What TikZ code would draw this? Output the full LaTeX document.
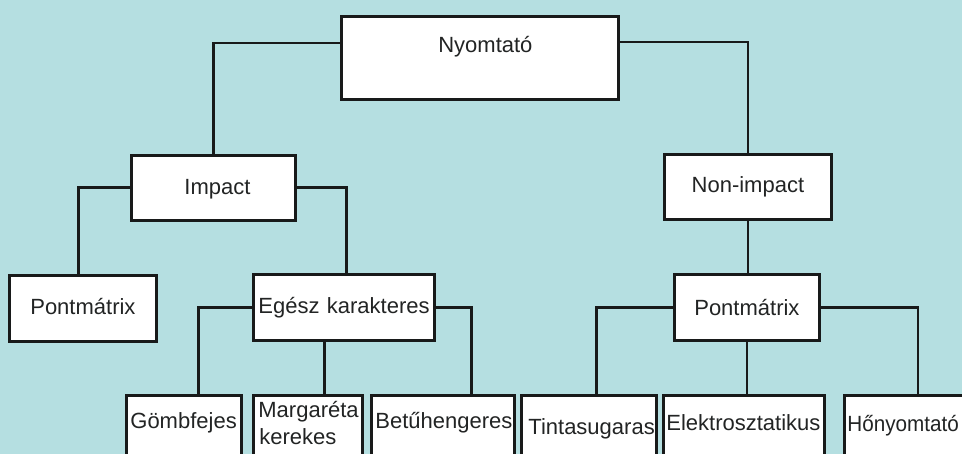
\documentclass[tikz,border=0pt]{standalone}
\usepackage{fontspec}
\setmainfont{Liberation Sans}
\definecolor{bgc}{RGB}{181,223,225}
\definecolor{linec}{RGB}{24,26,26}
\definecolor{txtc}{RGB}{34,36,36}
\begin{document}
\begin{tikzpicture}[x=1pt,y=1pt,
  box/.style={draw=linec, fill=white, line width=2.8pt, inner sep=0pt,
    anchor=north west, font=\fontsize{22}{27}\selectfont, text=txtc},
  conn/.style={draw=linec, line width=2.8pt}]
\useasboundingbox (0,0) rectangle (962,-454);
\clip (0,0) rectangle (962,-454);
\fill[bgc] (0,0) rectangle (962,-454);

% level 0
\node[box, text width=277pt, text height=36pt, text depth=47pt, align=center]
  (nyom) at (340,-15) {\mbox{\hspace*{11pt}Nyomtató}};
% level 1
\node[box, text width=164pt, text height=39pt, text depth=26pt, align=center]
  (impact) at (130,-154) {\mbox{\hspace*{8pt}Impact}};
\node[box, text width=167pt, text height=38pt, text depth=27pt, align=center]
  (nonimp) at (663,-153) {\mbox{Non-impact}};
% level 2
\node[box, text width=147pt, text height=39pt, text depth=27pt, align=center]
  (pm1) at (8,-274) {\mbox{Pontmátrix}};
\node[box, text width=181pt, text height=39pt, text depth=27pt, align=left]
  (egesz) at (252,-273) {\mbox{\hspace*{5pt}Egész karakteres}};
\node[box, text width=145pt, text height=41pt, text depth=25pt, align=center]
  (pm2) at (673,-273) {\mbox{Pontmátrix}};
% level 3
\node[box, text width=115pt, text height=33pt, text depth=66pt, align=left]
  (gomb) at (125,-394) {\mbox{\hspace*{4pt}Gömbfejes}};
\node[box, text width=109pt, text height=22pt, text depth=44pt, align=left]
  (marg) at (252,-394) {\mbox{\hspace*{5pt}Margaréta}\\\mbox{\hspace*{6pt}kerekes}};
\node[box, text width=143pt, text height=33pt, text depth=66pt, align=left]
  (betu) at (370,-394) {\mbox{\hspace*{4pt}Betűhengeres}};
\node[box, text width=135pt, text height=39pt, text depth=60pt, align=left]
  (tinta) at (520,-394) {\mbox{\hspace*{7pt}Tintasugaras}};
\node[box, text width=161pt, text height=35pt, text depth=64pt, align=left]
  (elek) at (662,-394) {\mbox{\hspace*{3pt}Elektrosztatikus}};
\node[box, text width=147pt, text height=36pt, text depth=63pt, align=left]
  (hony) at (843,-394) {\mbox{\hspace*{3pt}\scalebox{0.94}[1]{Hőnyomtató}}};

% connectors
\draw[conn] ([yshift=-28pt]nyom.north west) -| (impact.north);
\draw[conn] ([yshift=-27pt]nyom.north east) -| (nonimp.north);
\draw[conn] (impact.west) -| ([xshift=-4.5pt]pm1.north);
\draw[conn] (impact.east) -| ([xshift=2.5pt]egesz.north);
\draw[conn] (nonimp.south) -- (nonimp.south |- pm2.north);
\draw[conn] (egesz.west) -| ([xshift=14.5pt]gomb.north);
\draw[conn] ([xshift=-19.5pt]egesz.south) -- ([xshift=-19.5pt]egesz.south |- marg.north);
\draw[conn] (egesz.east) -| ([xshift=28.5pt]betu.north);
\draw[conn] (pm2.west) -| ([xshift=7.5pt]tinta.north);
\draw[conn] (pm2.south) -- (pm2.south |- elek.north);
\draw[conn] (pm2.east) -| (hony.north);
\end{tikzpicture}
\end{document}
